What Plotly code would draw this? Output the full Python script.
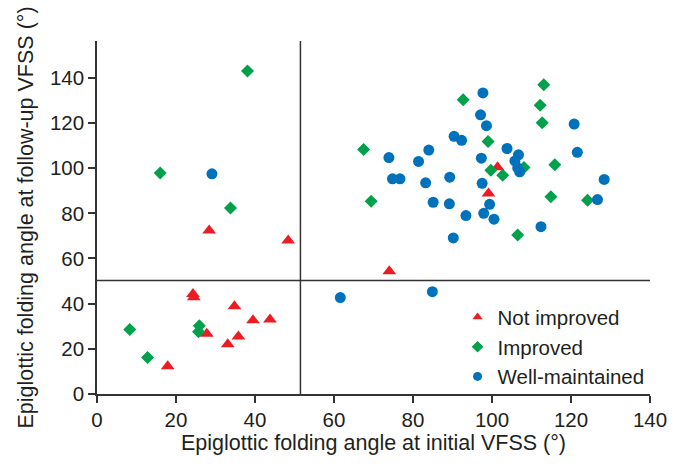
import plotly.graph_objects as go

# Not improved (red triangles)
ni_x = [28.4, 48.4, 24.3, 24.5, 34.8, 39.5, 43.8, 27.8, 35.8, 33.1, 17.9, 74.0, 101.4, 99.1]
ni_y = [72.4, 68.0, 44.3, 42.8, 38.8, 32.6, 33.0, 26.7, 25.5, 22.0, 12.3, 54.3, 100.4, 88.8]

# Improved (green diamonds)
im_x = [38.1, 16.0, 33.8, 8.3, 12.8, 25.9, 25.7, 92.7, 67.5, 99.0, 99.7, 69.4,
        113.1, 112.2, 112.7, 102.7, 108.1, 115.9, 114.9, 124.2, 106.5]
im_y = [143.0, 97.9, 82.4, 28.6, 16.2, 30.2, 27.6, 130.3, 108.3, 111.8, 99.1, 85.4,
        136.9, 127.8, 120.1, 96.9, 100.3, 101.5, 87.3, 85.8, 70.4]

# Well-maintained (blue circles)
wm_x = [29.1, 61.6, 84.9, 97.7, 97.1, 98.6, 90.4, 92.3, 84.0, 73.9, 81.4, 97.3,
        74.8, 76.7, 83.2, 89.3, 97.5, 85.1, 89.2, 99.4, 93.4, 97.9, 100.5, 90.2,
        120.8, 103.8, 121.6, 106.7, 105.8, 106.5, 107.0, 128.4, 126.7, 112.4]
wm_y = [97.5, 42.7, 45.3, 133.3, 123.6, 118.8, 114.1, 112.3, 108.0, 104.7, 103.0, 104.4,
        95.3, 95.3, 93.5, 96.0, 93.3, 84.9, 84.2, 84.0, 79.0, 80.0, 77.4, 69.1,
        119.5, 108.7, 107.0, 105.9, 103.2, 100.1, 98.4, 95.0, 86.1, 74.1]

series_names = ["Not improved", "Improved", "Well-maintained"]

x_cut = 51.5
y_cut = 50.2
x_ticks = [0, 20, 40, 60, 80, 100, 120, 140]
y_ticks = [0, 20, 40, 60, 80, 100, 120, 140]

RED = "#EC1C24"
GREEN = "#00A14B"
BLUE = "#0072BC"
AX = "#333333"
FONT = "Liberation Sans, Arial, sans-serif"

specs = [
    (ni_x, ni_y, series_names[0], "triangle-up", 12, RED, 9),
    (im_x, im_y, series_names[1], "diamond", 10, GREEN, 9),
    (wm_x, wm_y, series_names[2], "circle", 11, BLUE, 9),
]

fig = go.Figure()
for xs, ys, name, sym, sz, col, lsz in specs:
    fig.add_trace(go.Scatter(x=xs, y=ys, mode="markers", name=name, showlegend=False,
                             legendgroup=name,
                             marker=dict(symbol=sym, size=sz, color=col)))
# legend entries with smaller symbols, as in the reference
for xs, ys, name, sym, sz, col, lsz in specs:
    fig.add_trace(go.Scatter(x=[None], y=[None], mode="markers", name=name,
                             legendgroup=name,
                             marker=dict(symbol=sym, size=lsz, color=col)))

fig.add_shape(type="line", xref="x", yref="paper", x0=x_cut, x1=x_cut, y0=0, y1=1,
              line=dict(color=AX, width=1.5), layer="below")
fig.add_shape(type="line", xref="paper", yref="y", x0=0, x1=1, y0=y_cut, y1=y_cut,
              line=dict(color=AX, width=1.5), layer="below")

fig.update_layout(
    width=686, height=467,
    margin=dict(l=97, r=36, t=41, b=73),
    paper_bgcolor="white", plot_bgcolor="white",
    font=dict(family=FONT, size=20, color="#231F20"),
    showlegend=True,
    legend=dict(x=0.652, y=0.274, xanchor="left", yanchor="top",
                bgcolor="rgba(0,0,0,0)", font=dict(family=FONT, size=20.5),
                tracegroupgap=0),
    xaxis=dict(range=[0, 140], tickvals=x_ticks, showgrid=False, zeroline=False,
               showline=True, linecolor=AX, linewidth=1.5, ticks="outside",
               ticklen=7, tickcolor=AX, tickwidth=1.5,
               tickfont=dict(family=FONT, size=20.5),
               title=dict(text="Epiglottic folding angle at initial VFSS (°)", standoff=4,
                          font=dict(family=FONT, size=21.5))),
    yaxis=dict(range=[0, 156.3], tickvals=y_ticks, showgrid=False, zeroline=False,
               showline=True, linecolor=AX, linewidth=1.5, ticks="outside",
               ticklen=7, tickcolor=AX, tickwidth=1.5,
               tickfont=dict(family=FONT, size=20.5),
               title=dict(text="Epiglottic folding angle at follow-up VFSS (°)", standoff=10,
                          font=dict(family=FONT, size=21.5))),
)

fig.write_html("out.html")
